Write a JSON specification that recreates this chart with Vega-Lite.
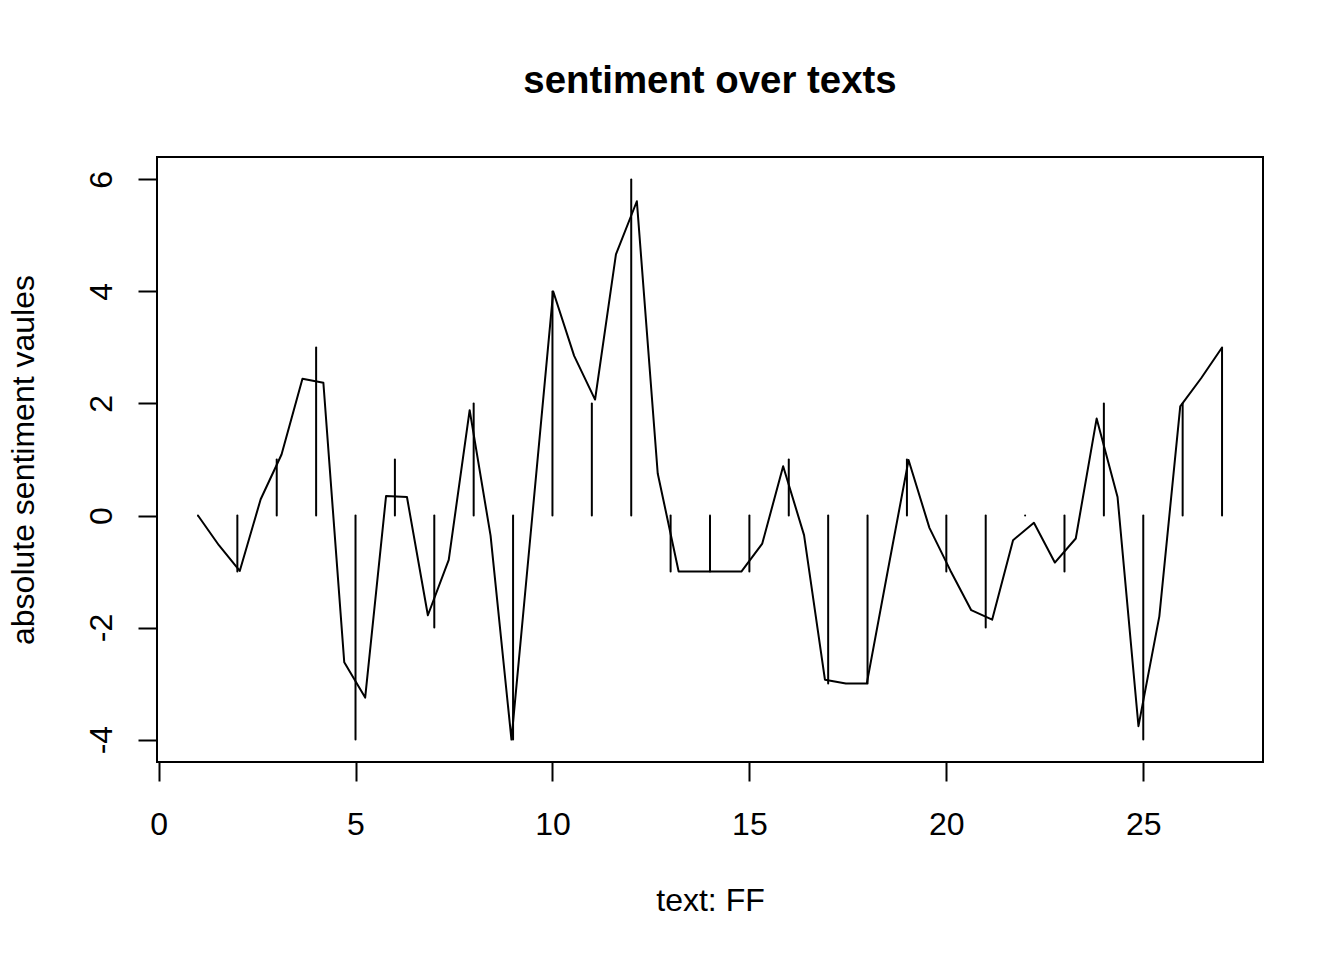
{
  "$schema": "https://vega.github.io/schema/vega-lite/v6.json",
  "width": 1106,
  "height": 605,
  "autosize": {"type": "none"},
  "padding": {"left": 157, "top": 157, "right": 81, "bottom": 198},
  "background": "white",
  "config": {
    "view": {"stroke": "black", "strokeWidth": 2},
    "font": "Liberation Sans"
  },
  "title": {
    "text": "sentiment over texts",
    "font": "Liberation Sans",
    "fontSize": 38.4,
    "fontWeight": "bold",
    "color": "black",
    "anchor": "middle",
    "frame": "group",
    "baseline": "alphabetic",
    "offset": 26
  },
  "datasets": {
    "bars": [
      {"x": 1, "value": 0}, {"x": 2, "value": -1}, {"x": 3, "value": 1},
      {"x": 4, "value": 3}, {"x": 5, "value": -4}, {"x": 6, "value": 1},
      {"x": 7, "value": -2}, {"x": 8, "value": 2}, {"x": 9, "value": -4},
      {"x": 10, "value": 4}, {"x": 11, "value": 2}, {"x": 12, "value": 6},
      {"x": 13, "value": -1}, {"x": 14, "value": -1}, {"x": 15, "value": -1},
      {"x": 16, "value": 1}, {"x": 17, "value": -3}, {"x": 18, "value": -3},
      {"x": 19, "value": 1}, {"x": 20, "value": -1}, {"x": 21, "value": -2},
      {"x": 22, "value": 0}, {"x": 23, "value": -1}, {"x": 24, "value": 2},
      {"x": 25, "value": -4}, {"x": 26, "value": 2}, {"x": 27, "value": 3}
    ],
    "curve": [
      {"x": 1.000, "value": 0}, {"x": 1.531, "value": -0.53}, {"x": 2.061, "value": -0.99},
      {"x": 2.592, "value": 0.29}, {"x": 3.122, "value": 1.09}, {"x": 3.653, "value": 2.44},
      {"x": 4.184, "value": 2.37}, {"x": 4.714, "value": -2.62}, {"x": 5.245, "value": -3.25},
      {"x": 5.776, "value": 0.35}, {"x": 6.306, "value": 0.33}, {"x": 6.837, "value": -1.78},
      {"x": 7.367, "value": -0.79}, {"x": 7.898, "value": 1.88}, {"x": 8.429, "value": -0.36},
      {"x": 8.959, "value": -4.0}, {"x": 9.490, "value": 0.0}, {"x": 10.020, "value": 4.0},
      {"x": 10.551, "value": 2.85}, {"x": 11.082, "value": 2.07}, {"x": 11.612, "value": 4.66},
      {"x": 12.143, "value": 5.61}, {"x": 12.673, "value": 0.75}, {"x": 13.204, "value": -1.0},
      {"x": 13.735, "value": -1.0}, {"x": 14.265, "value": -1.0}, {"x": 14.796, "value": -1.0},
      {"x": 15.327, "value": -0.5}, {"x": 15.857, "value": 0.88}, {"x": 16.388, "value": -0.35},
      {"x": 16.918, "value": -2.93}, {"x": 17.449, "value": -3.0}, {"x": 17.980, "value": -3.0},
      {"x": 18.510, "value": -1.0}, {"x": 19.041, "value": 0.99}, {"x": 19.571, "value": -0.22},
      {"x": 20.102, "value": -0.98}, {"x": 20.633, "value": -1.69}, {"x": 21.163, "value": -1.86},
      {"x": 21.694, "value": -0.44}, {"x": 22.224, "value": -0.13}, {"x": 22.755, "value": -0.84},
      {"x": 23.286, "value": -0.41}, {"x": 23.816, "value": 1.73}, {"x": 24.347, "value": 0.33},
      {"x": 24.878, "value": -3.76}, {"x": 25.408, "value": -1.8}, {"x": 25.939, "value": 1.95},
      {"x": 26.469, "value": 2.45}, {"x": 27.000, "value": 3.0}
    ]
  },
  "encoding": {
    "x": {
      "field": "x",
      "type": "quantitative",
      "scale": {"domain": [-0.04, 28.04], "nice": false, "zero": false},
      "axis": {
        "values": [0, 5, 10, 15, 20, 25],
        "domain": false,
        "grid": false,
        "tickSize": 19,
        "tickWidth": 2,
        "tickColor": "black",
        "labelFont": "Liberation Sans",
        "labelFontSize": 32,
        "labelColor": "black",
        "labelBaseline": "alphabetic",
        "labelPadding": 53,
        "labelFlush": false,
        "labelOverlap": false,
        "title": "text: FF",
        "titleFont": "Liberation Sans",
        "titleFontSize": 32,
        "titleFontWeight": "normal",
        "titleColor": "black",
        "titleBaseline": "alphabetic",
        "titlePadding": 70
      }
    },
    "y": {
      "field": "value",
      "type": "quantitative",
      "scale": {"domain": [-4.4, 6.4], "nice": false, "zero": false},
      "axis": {
        "values": [-4, -2, 0, 2, 4, 6],
        "domain": false,
        "grid": false,
        "tickSize": 19,
        "tickWidth": 2,
        "tickColor": "black",
        "labelFont": "Liberation Sans",
        "labelFontSize": 32,
        "labelColor": "black",
        "labelAngle": 270,
        "labelAlign": "center",
        "labelBaseline": "alphabetic",
        "labelPadding": 27,
        "labelFlush": false,
        "labelOverlap": false,
        "labelExpr": "'' + datum.value",
        "title": "absolute sentiment vaules",
        "titleFont": "Liberation Sans",
        "titleFontSize": 32,
        "titleFontWeight": "normal",
        "titleColor": "black",
        "titleBaseline": "alphabetic",
        "titlePadding": 52
      }
    }
  },
  "layer": [
    {
      "data": {"name": "bars"},
      "mark": {"type": "rule", "color": "black", "strokeWidth": 2, "strokeCap": "round"},
      "encoding": {
        "y2": {"datum": 0}
      }
    },
    {
      "data": {"name": "curve"},
      "mark": {"type": "line", "color": "black", "strokeWidth": 2, "strokeJoin": "round"},
      "encoding": {}
    }
  ]
}
